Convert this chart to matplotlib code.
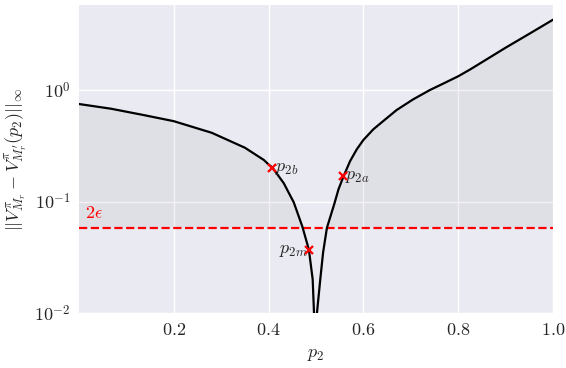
import matplotlib
matplotlib.use("Agg")
import matplotlib.pyplot as plt
import seaborn as sns
import numpy as np

sns.set_theme(style="darkgrid")
plt.rcParams['mathtext.fontset'] = 'cm'
plt.rcParams['font.family'] = ['DejaVu Serif']

# data
p2 = [0.0, 0.068, 0.139, 0.20, 0.28, 0.35, 0.39, 0.40, 0.408, 0.432, 0.453,
      0.471, 0.485, 0.493, 0.4958, 0.499, 0.502, 0.509, 0.515, 0.523, 0.539,
      0.5475, 0.558, 0.572, 0.586, 0.60, 0.621, 0.642, 0.670, 0.705, 0.740,
      0.775, 0.80, 0.825, 0.90, 0.95, 1.0]
gap = [0.75, 0.68, 0.594, 0.526, 0.414, 0.304, 0.236, 0.215, 0.202, 0.146,
       0.0985, 0.06, 0.037, 0.02, 0.01, 0.0001, 0.01, 0.02, 0.035, 0.058,
       0.0965, 0.129, 0.168, 0.231, 0.294, 0.357, 0.445, 0.528, 0.662, 0.826,
       1.0, 1.18, 1.33, 1.53, 2.4, 3.2, 4.28]
two_eps = 0.058
mark_x = [0.408, 0.558, 0.485]
mark_y = [0.202, 0.168, 0.037]
mark_lbl = [r'$p_{2b}$', r'$p_{2a}$', r'$p_{2m}$']
xticks = [0.2, 0.4, 0.6, 0.8, 1.0]
xtick_lbl = [r'$0.2$', r'$0.4$', r'$0.6$', r'$0.8$', r'$1.0$']
yticks = [0.01, 0.1, 1.0]
ytick_lbl = [r'$10^{-2}$', r'$10^{-1}$', r'$10^{0}$']

fig = plt.figure(figsize=(5.66, 3.68), dpi=100)
ax = fig.add_axes([79/566, 1-313/368, (553-79)/566, (313-5)/368])

x = np.array(p2)
y = np.array(gap)
ax.fill_between(x, two_eps, y, where=y >= two_eps, interpolate=True,
                color='grey', alpha=0.1, linewidth=0, zorder=1)
ax.plot(x, y, color='black', lw=1.6, zorder=3)
ax.axhline(two_eps, color='red', ls='--', lw=1.6, zorder=2)
ax.plot(mark_x, mark_y, 'x', color='red', ms=6, mew=1.6, zorder=4)

ax.text(0.013, two_eps*1.12, r'$2\epsilon$', color='red', fontsize=13,
        ha='left', va='bottom')
ax.text(mark_x[0]+0.005, mark_y[0], mark_lbl[0], fontsize=13, ha='left', va='center')
ax.text(mark_x[1]+0.004, mark_y[1], mark_lbl[1], fontsize=13, ha='left', va='center')
ax.text(mark_x[2]-0.003, mark_y[2], mark_lbl[2], fontsize=13, ha='right', va='center')

ax.set_yscale('log')
ax.set_xlim(0.0, 1.0)
ax.set_ylim(0.01, 5.8)
ax.set_xticks(xticks)
ax.set_xticklabels(xtick_lbl, fontsize=13)
ax.set_yticks(yticks)
ax.set_yticklabels(ytick_lbl, fontsize=13)
ax.yaxis.set_minor_locator(matplotlib.ticker.NullLocator())
ax.tick_params(axis='both', length=0, pad=6)
ax.set_xlabel(r'$p_2$', fontsize=13)
ax.set_ylabel(r'$||V^{\pi}_{M_r} - V^{\pi}_{M_r^{\prime}}(p_2)||_{\infty}$', fontsize=13)
for s in ax.spines.values():
    s.set_visible(False)

fig.savefig('out.png', dpi=100)
